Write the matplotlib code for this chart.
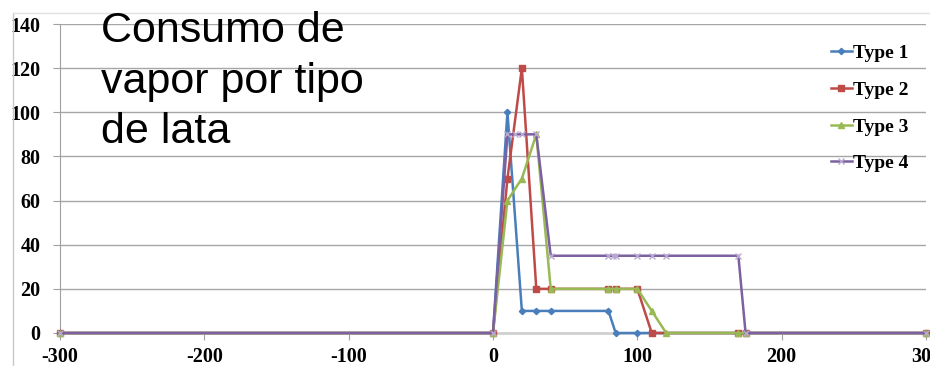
import matplotlib
matplotlib.use('Agg')

import matplotlib.pyplot as plt
from matplotlib.lines import Line2D

# steam consumption per can type
type1_x = [-300, 0, 10, 20, 30, 40, 80, 85, 100, 300]
type1_y = [0, 0, 100, 10, 10, 10, 10, 0, 0, 0]

type2_x = [-300, 0, 10, 20, 30, 40, 80, 85, 100, 110, 170, 175, 300]
type2_y = [0, 0, 70, 120, 20, 20, 20, 20, 20, 0, 0, 0, 0]

type3_x = [-300, 0, 10, 20, 30, 40, 80, 85, 100, 110, 120, 170, 175, 300]
type3_y = [0, 0, 60, 70, 90, 20, 20, 20, 20, 10, 0, 0, 0, 0]

type4_x = [-300, 0, 10, 15, 20, 30, 40, 80, 83, 85, 100, 110, 120, 170, 175, 300]
type4_y = [0, 0, 90, 90, 90, 90, 35, 35, 35, 35, 35, 35, 35, 35, 0, 0]

x_ticks = [-300, -200, -100, 0, 100, 200, 300]
y_ticks = [0, 20, 40, 60, 80, 100, 120, 140]

colors = ["#4A7EBB", "#BE4B48", "#98B954", "#7D60A0"]
tick_font = {'family': 'Liberation Serif', 'weight': 'bold', 'size': 14.5}

fig = plt.figure(figsize=(9.3, 3.66), dpi=100)
ax = fig.add_axes([60 / 930, 33 / 366, 866 / 930, 309 / 366])

series = [
	(type1_x, type1_y, 'D', 3.2, colors[0], 'Type 1'),
	(type2_x, type2_y, 's', 5, colors[1], 'Type 2'),
	(type3_x, type3_y, '^', 5, colors[2], 'Type 3'),
	(type4_x, type4_y, 'x', 5, colors[3], 'Type 4'),
]
handles = []
for xs, ys, mk, ms, c, lab in series:
	mec = '#B9A9D0' if mk == 'x' else c
	ax.plot(xs, ys, color=c, lw=1.8, marker=mk, markersize=ms,
			markerfacecolor=c, markeredgecolor=mec, markeredgewidth=1, zorder=3, clip_on=False)
	handles.append(Line2D([0], [0], color=c, lw=1.8, marker=mk, markersize=ms,
						  markerfacecolor=c, markeredgecolor=mec, label=lab))

ax.set_xlim(-300, 300)
ax.set_ylim(0, 140)
ax.set_xticks(x_ticks)
ax.set_yticks(y_ticks)
ax.set_xticklabels([str(t) for t in x_ticks], fontdict=tick_font)
ax.set_yticklabels([str(t) for t in y_ticks], fontdict=tick_font)
ax.tick_params(axis='both', direction='out', length=5, color='#A0A0A0')
ax.tick_params(axis='y', pad=9)
ax.tick_params(axis='x', pad=5)

ax.yaxis.grid(True, color='#A6A6A6', lw=1)
ax.set_axisbelow(True)
for side in ['top', 'right']:
	ax.spines[side].set_visible(False)
ax.spines['left'].set_color('#A0A0A0')
ax.spines['bottom'].set_color('#D0D0D0')
ax.spines['bottom'].set_linewidth(2)

leg = ax.legend(handles=handles, loc='upper right', bbox_to_anchor=(1.0, 0.99), frameon=False,
				prop={'family': 'Liberation Serif', 'weight': 'bold', 'size': 14},
				handlelength=1.1, handletextpad=0.05, labelspacing=0.98)

fig.text(101 / 930, 1 - 11 / 366, "Consumo de\nvapor por tipo\nde lata", family='Liberation Sans',
		 size=31, va='top', ha='left', linespacing=1.34)

# chart area border
fig.add_artist(Line2D([13 / 930, 13 / 930], [0, 1 - 13 / 366], transform=fig.transFigure, color='#C8C8C8', lw=1))
fig.add_artist(Line2D([13 / 930, 1], [1 - 13 / 366, 1 - 13 / 366], transform=fig.transFigure, color='#E0E0E0', lw=1))

fig.savefig('out.png', dpi=100)
